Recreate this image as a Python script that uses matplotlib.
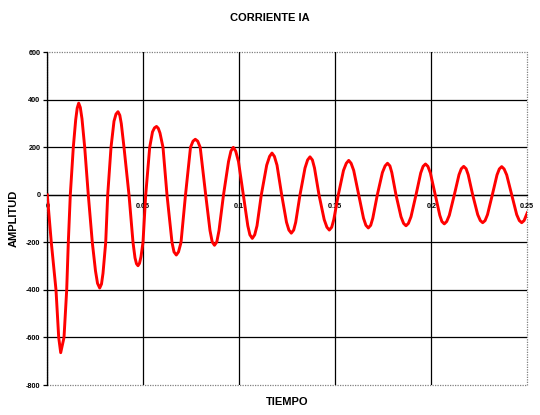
import numpy as np
import matplotlib.pyplot as plt
from matplotlib.patches import Rectangle

plt.rcParams['font.family'] = ['Liberation Sans', 'DejaVu Sans']
plt.rcParams['font.weight'] = 'bold'

# Data (time in s, current amplitude), one half-cycle per line
tiempo = [0.0, 0.00208, 0.00453, 0.00594, 0.00698, 0.00870, 0.01010, 0.01094,
          0.01198, 0.01354, 0.01479, 0.01557, 0.01635, 0.01719, 0.01807, 0.01948,
          0.02135, 0.02344, 0.02510, 0.02615, 0.02729, 0.02823, 0.02901, 0.03042,
          0.03146, 0.03318, 0.03474, 0.03578, 0.03682, 0.03776, 0.03854, 0.03995,
          0.04255, 0.04464, 0.04568, 0.04646, 0.04724, 0.04802, 0.04880, 0.04984,
          0.05125, 0.05333, 0.05479, 0.05583, 0.05688, 0.05781, 0.05870, 0.06026,
          0.06234, 0.06495, 0.06599, 0.06719, 0.06833, 0.06964,
          0.07198, 0.07458, 0.07589, 0.07708, 0.07833, 0.07964,
          0.08250, 0.08474, 0.08589, 0.08708, 0.08828, 0.08943,
          0.09177, 0.09438, 0.09563, 0.09688, 0.09813, 0.09958,
          0.10208, 0.10443, 0.10552, 0.10677, 0.10802, 0.10922,
          0.11146, 0.11427, 0.11578, 0.11703, 0.11828, 0.11964,
          0.12208, 0.12458, 0.12583, 0.12708, 0.12833, 0.12938,
          0.13161, 0.13422, 0.13557, 0.13682, 0.13807, 0.13917,
          0.14151, 0.14422, 0.14563, 0.14688, 0.14813, 0.14922,
          0.15156, 0.15427, 0.15573, 0.15698, 0.15823, 0.15958,
          0.16219, 0.16469, 0.16594, 0.16719, 0.16844, 0.16953,
          0.17188, 0.17453, 0.17594, 0.17719, 0.17844, 0.17943,
          0.18161, 0.18422, 0.18557, 0.18682, 0.18807, 0.18943,
          0.19203, 0.19448, 0.19573, 0.19698, 0.19823, 0.19953,
          0.20208, 0.20443, 0.20552, 0.20677, 0.20802, 0.20938,
          0.21198, 0.21443, 0.21563, 0.21688, 0.21813, 0.21922,
          0.22156, 0.22417, 0.22552, 0.22677, 0.22802, 0.22927,
          0.23177, 0.23422, 0.23542, 0.23667, 0.23792, 0.23927,
          0.24188, 0.24448, 0.24583, 0.24708, 0.24833, 0.25]
amplitud = [0, -200, -400, -600, -664, -600, -400, -200,
            0, 200, 316, 365, 386, 368, 320, 200,
            0, -200, -320, -372, -392, -375, -330, -200,
            0, 200, 310, 340, 350, 335, 300, 200,
            0, -200, -265, -290, -298, -288, -260, -200,
            0, 200, 265, 282, 288, 280, 260, 200,
            0, -200, -240, -253, -240, -200,
            0, 200, 226, 234, 226, 200,
            0, -150, -198, -212, -198, -150,
            0, 140, 184, 200, 184, 140,
            0, -130, -168, -183, -168, -130,
            0, 125, 162, 176, 162, 125,
            0, -115, -148, -161, -148, -115,
            0, 113, 147, 160, 147, 113,
            0, -104, -136, -148, -136, -104,
            0, 103, 133, 145, 133, 103,
            0, -98, -128, -139, -128, -98,
            0, 94, 122, 133, 122, 94,
            0, -92, -120, -130, -120, -92,
            0, 92, 120, 130, 120, 92,
            0, -86, -112, -122, -112, -86,
            0, 85, 110, 120, 110, 85,
            0, -83, -108, -117, -108, -83,
            0, 84, 109, 119, 109, 84,
            0, -83, -108, -117, -108, -75]

xticks = [0, 0.05, 0.1, 0.15, 0.2, 0.25]
xlabels = ['0', '0.05', '0.1', '0.15', '0.2', '0.25']
yticks = [-800, -600, -400, -200, 0, 200, 400, 600]

fig = plt.figure(figsize=(5.4, 4.15), dpi=100)
ax = fig.add_axes([47.3 / 540, 1 - 385 / 415, 480 / 540, (385 - 52.3) / 415])

ax.plot(tiempo, amplitud, color='#ff0000', lw=2.1, solid_joinstyle='round', zorder=3)

# axis line along zero, border in gray
for s in ['top', 'right']:
    ax.spines[s].set_visible(False)
ax.spines['bottom'].set_position(('data', 0))
ax.spines['bottom'].set_linewidth(0.9)
ax.spines['left'].set_linewidth(0.9)

ax.set_xlim(0, 0.25)
ax.set_ylim(-800, 600)
ax.set_xticks(xticks)
ax.set_xticklabels(xlabels)
ax.set_yticks(yticks)
ax.set_yticklabels([str(v) for v in yticks])
ax.tick_params(axis='x', length=0, pad=6, labelsize=5.2)
ax.tick_params(axis='y', length=3, width=0.9, pad=2, labelsize=5.2)

ax.grid(True, color='black', lw=0.9)
ygl = ax.get_ygridlines()
ygl[0].set_visible(False)
ygl[-1].set_visible(False)
xgl = ax.get_xgridlines()
xgl[-1].set_visible(False)

ax.add_patch(Rectangle((0, 0), 1, 1, transform=ax.transAxes, fill=False,
                       ec='#808080', lw=0.9, ls=(0, (1, 1)), zorder=1, clip_on=False))

fig.text(270 / 540, 1 - 18 / 415, 'CORRIENTE IA', ha='center', va='center',
         fontsize=8, fontweight='bold')
fig.text(287 / 540, 1 - 402 / 415, 'TIEMPO', ha='center', va='center',
         fontsize=8, fontweight='bold')
fig.text(14 / 540, 1 - 218 / 415, 'AMPLITUD', ha='center', va='center',
         rotation=90, fontsize=8, fontweight='bold')

fig.savefig('out.png', dpi=100)
